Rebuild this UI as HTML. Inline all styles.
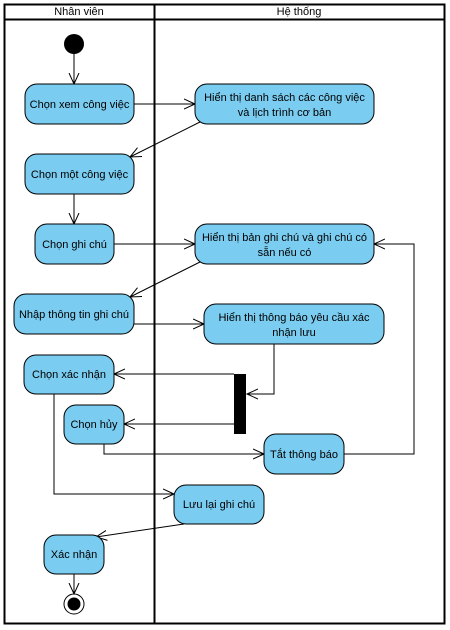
<!DOCTYPE html>
<html><head><meta charset="utf-8"><style>
body{margin:0;background:#fff}
svg{display:block}
text{font-family:"Liberation Sans",Arial,sans-serif;font-size:11px;fill:#000}
.n{fill:#7accf0;stroke:#000;stroke-width:1}
.l{fill:none;stroke:#000;stroke-width:1}
</style></head><body>
<svg width="450" height="630" viewBox="0 0 450 630">
<defs><marker id="a" markerWidth="12" markerHeight="12" refX="11" refY="6" orient="auto" markerUnits="userSpaceOnUse"><path d="M0,1 L11,6 L0,11" fill="none" stroke="#000" stroke-width="1"/></marker></defs>
<rect x="4.5" y="4.5" width="440" height="619" fill="#fff" stroke="#000" stroke-width="2"/>
<line x1="4" y1="19.5" x2="445" y2="19.5" stroke="#000" stroke-width="2"/>
<line x1="154.5" y1="4" x2="154.5" y2="624" stroke="#000" stroke-width="2"/>
<text x="79" y="15" text-anchor="middle">Nhân viên</text>
<text x="299" y="15" text-anchor="middle">Hệ thống</text>
<circle cx="74" cy="44" r="10" fill="#000"/>
<g class="l">
<line x1="74" y1="54" x2="74" y2="84" marker-end="url(#a)"/>
<line x1="134" y1="104" x2="195" y2="104" marker-end="url(#a)"/>
<line x1="200" y1="122" x2="130" y2="157" marker-end="url(#a)"/>
<line x1="74" y1="194" x2="74" y2="224" marker-end="url(#a)"/>
<line x1="114" y1="244" x2="195" y2="244" marker-end="url(#a)"/>
<line x1="200" y1="262" x2="130" y2="297" marker-end="url(#a)"/>
<line x1="134" y1="324" x2="204" y2="324" marker-end="url(#a)"/>
<polyline points="274,344 274,394 247,394" marker-end="url(#a)"/>
<line x1="234" y1="374" x2="114" y2="374" marker-end="url(#a)"/>
<line x1="234" y1="424" x2="124" y2="424" marker-end="url(#a)"/>
<polyline points="104,444 104,454 264,454" marker-end="url(#a)"/>
<polyline points="344,454 414,454 414,244 374,244" marker-end="url(#a)"/>
<polyline points="54,394 54,494 174,494" marker-end="url(#a)"/>
<line x1="184" y1="524" x2="96" y2="537" marker-end="url(#a)"/>
<line x1="74" y1="574" x2="74" y2="594" marker-end="url(#a)"/>
</g>
<rect x="234" y="374" width="12" height="60" fill="#000"/>
<rect class="n" x="25" y="84" width="109" height="40" rx="12"/>
<text x="79.5" y="108" text-anchor="middle">Chọn xem công việc</text>
<rect class="n" x="195" y="84" width="179" height="40" rx="12"/>
<text x="284.5" y="101" text-anchor="middle">Hiển thị danh sách các công việc</text>
<text x="284.5" y="116" text-anchor="middle">và lịch trình cơ bản</text>
<rect class="n" x="25" y="154" width="109" height="40" rx="12"/>
<text x="79.5" y="178" text-anchor="middle">Chọn một công việc</text>
<rect class="n" x="35" y="224" width="79" height="40" rx="12"/>
<text x="74.5" y="248" text-anchor="middle">Chọn ghi chú</text>
<rect class="n" x="195" y="224" width="179" height="40" rx="12"/>
<text x="284.5" y="241" text-anchor="middle">Hiển thị bản ghi chú và ghi chú có</text>
<text x="284.5" y="256" text-anchor="middle">sẵn nếu có</text>
<rect class="n" x="14" y="294" width="120" height="40" rx="12"/>
<text x="74" y="318" text-anchor="middle">Nhập thông tin ghi chú</text>
<rect class="n" x="204" y="304" width="180" height="40" rx="12"/>
<text x="294" y="321" text-anchor="middle">Hiển thị thông báo yêu cầu xác</text>
<text x="294" y="336" text-anchor="middle">nhận lưu</text>
<rect class="n" x="24" y="355" width="90" height="39" rx="12"/>
<text x="69" y="378" text-anchor="middle">Chọn xác nhận</text>
<rect class="n" x="64" y="405" width="60" height="39" rx="12"/>
<text x="94" y="428" text-anchor="middle">Chọn hủy</text>
<rect class="n" x="264" y="434" width="80" height="40" rx="12"/>
<text x="304" y="458" text-anchor="middle">Tắt thông báo</text>
<rect class="n" x="174" y="485" width="90" height="39" rx="12"/>
<text x="219" y="508" text-anchor="middle">Lưu lại ghi chú</text>
<rect class="n" x="44" y="535" width="60" height="39" rx="12"/>
<text x="74" y="558" text-anchor="middle">Xác nhận</text>
<circle cx="74" cy="604" r="10" fill="#fff" stroke="#000"/>
<circle cx="74" cy="604" r="6.5" fill="#000"/>
</svg>
</body></html>
